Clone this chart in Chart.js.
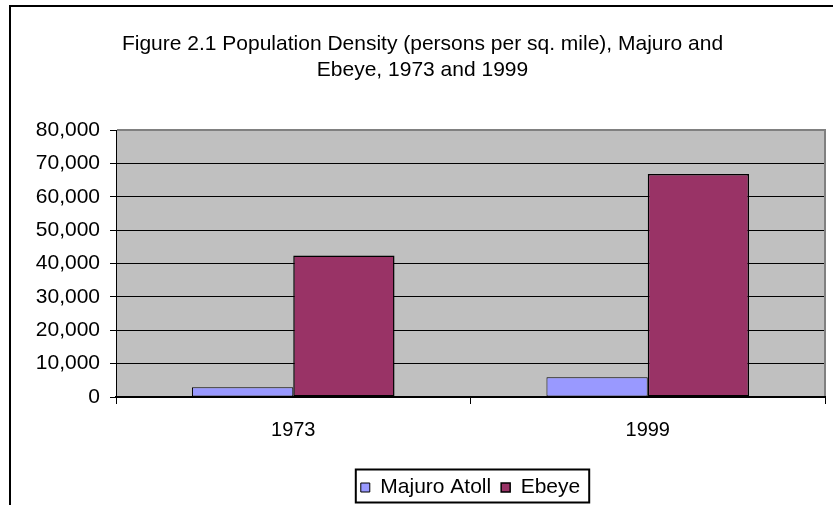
<!DOCTYPE html>
<html>
<head>
<meta charset="utf-8">
<script src="https://cdn.jsdelivr.net/npm/chart.js@4.4.0/dist/chart.umd.min.js"></script>
<style>
  html, body { margin: 0; padding: 0; background: #fff; overflow: hidden; }
</style>
</head>
<body>
<canvas id="chart" width="833" height="505"></canvas>
<script>
const years = ["1973", "1999"];
const majuroAtoll = [2900, 5900];
const ebeye = [42400, 66800];
const titleLines = [
  "Figure 2.1 Population Density (persons per sq. mile), Majuro and",
  "Ebeye, 1973 and 1999"
];

Chart.defaults.font.family = '"Liberation Sans", Arial, sans-serif';
Chart.defaults.color = "#000";

const withCommas = (v) => String(v).replace(/\B(?=(\d{3})+(?!\d))/g, ",");

// grey plot area, outer frame, plot border and boxed legend
const excelLook = {
  id: "excelLook",
  afterLayout(chart) {
    chart.legend.top += 3;
    chart.legend.bottom += 3;
  },
  beforeDraw(chart) {
    const { ctx, chartArea: a } = chart;
    ctx.save();
    ctx.fillStyle = "#fff";
    ctx.fillRect(0, 0, chart.width, chart.height);
    ctx.strokeStyle = "#000";
    ctx.lineWidth = 2;
    ctx.strokeRect(10, 6, 900, 600);
    ctx.fillStyle = "#c0c0c0";
    ctx.fillRect(a.left, a.top, a.right - a.left, a.bottom - a.top);
    ctx.restore();
  },
  afterDraw(chart) {
    const { ctx, chartArea: a, legend } = chart;
    ctx.save();
    ctx.strokeStyle = "#808080";
    ctx.lineWidth = 2;
    ctx.beginPath();
    ctx.moveTo(a.left + 1, a.top);
    ctx.lineTo(a.right, a.top);
    ctx.lineTo(a.right, a.bottom - 1);
    ctx.stroke();

    const boxes = legend.legendHitBoxes;
    const first = boxes[0];
    const last = boxes[boxes.length - 1];
    const mid = legend.top + legend.options.labels.padding + first.height / 2;
    ctx.strokeStyle = "#000";
    ctx.lineWidth = 2;
    ctx.strokeRect(first.left - 5, mid - 18, last.left + last.width - first.left + 14, 33);
    ctx.restore();
  }
};

new Chart(document.getElementById("chart"), {
  type: "bar",
  data: {
    labels: years,
    datasets: [
      {
        label: "Majuro Atoll",
        data: majuroAtoll,
        backgroundColor: "#9999ff",
        borderColor: "#000",
        borderWidth: 1,
        borderSkipped: false
      },
      {
        label: "Ebeye",
        data: ebeye,
        backgroundColor: "#993366",
        borderColor: "#000",
        borderWidth: 1.5,
        borderSkipped: false
      }
    ]
  },
  options: {
    responsive: false,
    animation: false,
    layout: { padding: { left: 20, right: 8, top: 0, bottom: 0 } },
    datasets: {
      bar: { categoryPercentage: 2 / 3.5, barPercentage: 1 }
    },
    scales: {
      x: {
        grid: { drawOnChartArea: false, drawTicks: true, tickLength: 7, color: "#000", offset: true },
        border: { color: "#000", width: 2 },
        ticks: { font: { size: 20 }, padding: 14 },
        afterFit: (s) => { s.height = 67; }
      },
      y: {
        min: 0,
        max: 80000,
        ticks: { stepSize: 10000, font: { size: 21 }, padding: 10, callback: (v) => withCommas(v) },
        grid: { color: "#000", lineWidth: 1, tickLength: 6 },
        border: { color: "#000", width: 1 },
        afterFit: (s) => { s.width = 96; }
      }
    },
    plugins: {
      tooltip: { enabled: false },
      title: {
        display: true,
        text: titleLines,
        color: "#000",
        font: { size: 21, weight: "normal", lineHeight: 1.2 },
        padding: { top: 32, bottom: 47.6 }
      },
      legend: {
        position: "bottom",
        fullSize: false,
        labels: { boxWidth: 9, boxHeight: 9, padding: 10, font: { size: 21 }, color: "#000" }
      }
    }
  },
  plugins: [excelLook]
});
</script>
</body>
</html>
